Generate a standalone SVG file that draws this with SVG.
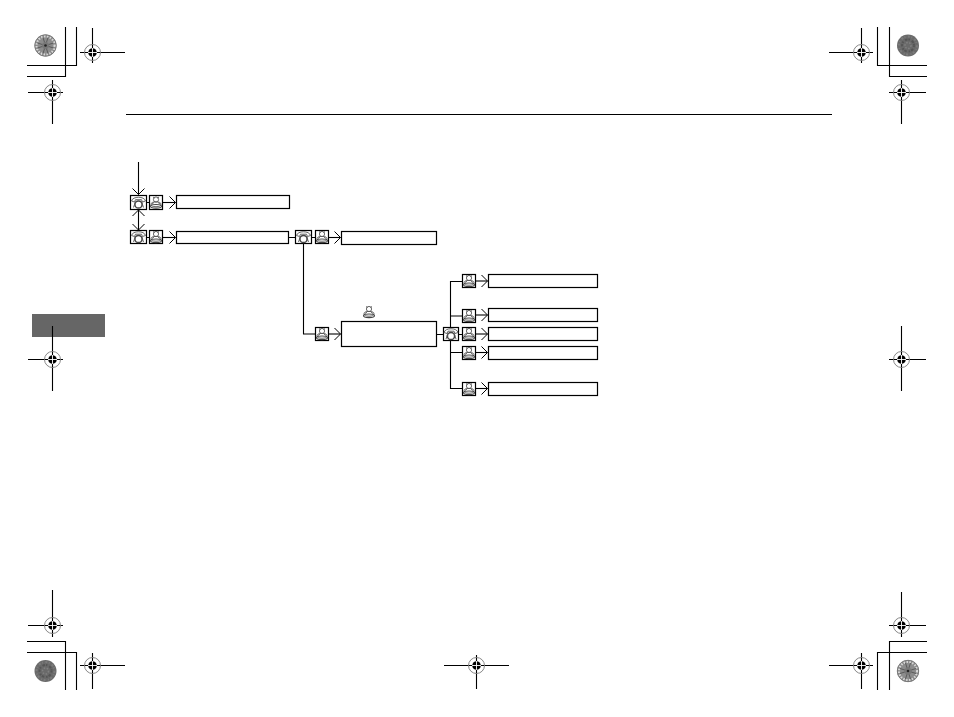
<svg xmlns="http://www.w3.org/2000/svg" width="954" height="717" viewBox="0 0 954 717">
<style>
.k{fill:none;stroke:#000;stroke-width:1.1}
.n{fill:#fff;stroke:#000;stroke-width:1.2}
.g{fill:none;stroke:#555;stroke-width:.9}
.rc{fill:none;stroke:#888;stroke-width:1}
</style>
<defs>
<marker id="a" markerUnits="userSpaceOnUse" markerWidth="9" markerHeight="14" refX="7" refY="7" orient="auto-start-reverse"><path d="M1,1 L7,7 L1,13" fill="none" stroke="#000" stroke-width="1"/></marker>
<g id="phone"><path class="g" d="M-7,-1.500 C-6,-6.500 6,-6.500 7,-1.500 L4,-.5 L3,-2.800 L-3,-2.800 L-4,-.5Z"/><circle cx="0" cy="2" r="3.600" fill="none" stroke="#444" stroke-width="1.500"/><path class="g" d="M-3,-1L-5,5M3,-1L5,5"/></g>
<g id="seat"><circle class="g" cx="0" cy="-3" r="2.600"/><path class="g" d="M-3,-5.500L-1.500,-4.500M3,-5.500L1.500,-4.500M-2,0L-4,1.500M2,0L4,1.500"/><ellipse class="g" cx="0" cy="1.800" rx="5" ry="2.400"/><ellipse cx="0" cy="3.800" rx="5.500" ry="1.800" fill="none" stroke="#444" stroke-width="1.100"/></g>
<g id="reg"><circle class="rc" r="8"/><circle r="4.300" fill="#000"/><path d="M-4.500,0H4.500M0,-4.500V4.500" stroke="#fff" stroke-width=".9"/></g>
<g id="discA"><circle r="11" fill="#8c8c8c"/><circle r="9.300" fill="none" stroke="#d8d8d8" stroke-width="2.600" stroke-dasharray="1.500 1.500"/><g stroke="#5a5a5a" stroke-width="1" fill="none"><circle r="10.700" stroke="#777"/><path d="M-8,-2.500L8,2.500M-8,2.500L8,-2.500M-2.500,-8L2.500,8M2.500,-8L-2.500,8"/></g><circle r="3.500" fill="#777"/><circle r="1.300" fill="#222"/></g>
<g id="discB"><circle r="11" fill="#6a6a6a"/><circle r="9" fill="none" stroke="#7c7c7c" stroke-width="2" stroke-dasharray="2 1.500 1 2.500"/><circle r="6" fill="none" stroke="#555" stroke-width="2" stroke-dasharray="1.500 2 2.500 1"/><circle r="3" fill="none" stroke="#808080" stroke-width="1.500" stroke-dasharray="1.500 1.500"/></g>
</defs>
<rect width="954" height="717" fill="#fff"/>
<g id="page-marks">
<path class="k" d="M76.500,27V65.500H27M65.500,27V76.500H27M877.500,27V65.500H927M889.500,27V76.500H927M27,641.500H65.500V690M27,652.500H76.500V690M927,641.500H889.500V690M927,652.500H877.500V690"/>
<path class="k" d="M80,52.500H125M92.500,28V63M28,92.500H63M52.500,80V124M829,52.500H873M861.500,28V63M889,92.500H926M901.500,80V124M28,625.500H63M52.500,590V637M80,665.500H125M92.500,653V689M889,625.500H926M901.500,592V637M829,665.500H873M861.500,653V689M444,665.500H509M476.500,655V689"/>
<rect x="32" y="314" width="73" height="23" fill="#666"/>
<path class="k" d="M28,359.500H63M52.500,326V391M889,359.500H926M901.500,326V391"/>
<use href="#reg" x="92.500" y="52.500"/><use href="#reg" x="52.500" y="92.500"/><use href="#reg" x="861.500" y="52.500"/><use href="#reg" x="901.500" y="92.500"/>
<use href="#reg" x="52.500" y="625.500"/><use href="#reg" x="92.500" y="665.500"/><use href="#reg" x="901.500" y="625.500"/><use href="#reg" x="861.500" y="665.500"/><use href="#reg" x="476.500" y="665.500"/><use href="#reg" x="52.500" y="359.500"/><use href="#reg" x="901.500" y="359.500"/>
<use href="#discA" x="45.500" y="45.500"/><use href="#discB" x="908" y="45.500"/><use href="#discB" x="45.500" y="671"/><use href="#discA" x="908" y="671"/>
<path class="k" d="M126,114.500H832"/>
</g>
<g id="connectors">
<path class="k" d="M138.500,162V194.500" marker-end="url(#a)"/>
<path class="k" d="M138.500,210V230" marker-start="url(#a)" marker-end="url(#a)"/>
<path class="k" d="M146,202.500H149M146,237.500H149M288,237.500H296M312,237.500H315M437,334.500H443M459,334.500H462"/>
<path class="k" d="M163,202.500H175.500" marker-end="url(#a)"/>
<path class="k" d="M163,237.500H175.500" marker-end="url(#a)"/>
<path class="k" d="M328,237.500H340.500" marker-end="url(#a)"/>
<path class="k" d="M303.500,244V334H315"/>
<path class="k" d="M328,334H340.500" marker-end="url(#a)"/>
<path class="k" d="M450.500,281V389M450.500,281.500H462M450.500,316H462M450.500,352.500H462M450.500,388.500H462"/>
<path class="k" d="M475,281H487.500" marker-end="url(#a)"/>
<path class="k" d="M475,315H487.500" marker-end="url(#a)"/>
<path class="k" d="M475,334H487.500" marker-end="url(#a)"/>
<path class="k" d="M475,352.500H487.500" marker-end="url(#a)"/>
<path class="k" d="M475,388.500H487.500" marker-end="url(#a)"/>
</g>
<g id="n1"><rect class="n" x="130.500" y="195.500" width="16" height="14"/><use href="#phone" x="138.500" y="202.500"/></g>
<g id="n2"><rect class="n" x="149.500" y="195.500" width="13" height="14"/><use href="#seat" x="156" y="202.500"/></g>
<g id="n3"><rect class="n" x="176.500" y="195.500" width="113" height="13"/></g>
<g id="n4"><rect class="n" x="130.500" y="230.500" width="16" height="13"/><use href="#phone" x="138.500" y="237"/></g>
<g id="n5"><rect class="n" x="149.500" y="230.500" width="13" height="13"/><use href="#seat" x="156" y="237"/></g>
<g id="n6"><rect class="n" x="176.500" y="231.500" width="112" height="12"/></g>
<g id="n7"><rect class="n" x="295.500" y="230.500" width="16" height="13"/><use href="#phone" x="303.500" y="237"/></g>
<g id="n8"><rect class="n" x="315.500" y="230.500" width="13" height="13"/><use href="#seat" x="322" y="237"/></g>
<g id="n9"><rect class="n" x="341.500" y="231.500" width="95" height="13"/></g>
<g id="n10"><rect class="n" x="315.500" y="327.500" width="13" height="13"/><use href="#seat" x="322" y="334"/></g>
<g id="n11"><use href="#seat" x="369" y="312"/></g>
<g id="n12"><rect class="n" x="341.500" y="321.500" width="95" height="25"/></g>
<g id="n13"><rect class="n" x="443.500" y="327.500" width="15" height="13"/><use href="#phone" x="451" y="334"/></g>
<g id="n14"><rect class="n" x="462.500" y="274.500" width="13" height="13"/><use href="#seat" x="469" y="281"/></g>
<g id="n15"><rect class="n" x="488.500" y="274.500" width="109" height="13"/></g>
<g id="n16"><rect class="n" x="462.500" y="309.500" width="13" height="13"/><use href="#seat" x="469" y="316"/></g>
<g id="n17"><rect class="n" x="488.500" y="308.500" width="109" height="13"/></g>
<g id="n18"><rect class="n" x="462.500" y="327.500" width="13" height="13"/><use href="#seat" x="469" y="334"/></g>
<g id="n19"><rect class="n" x="488.500" y="327.500" width="109" height="13"/></g>
<g id="n20"><rect class="n" x="462.500" y="346.500" width="13" height="13"/><use href="#seat" x="469" y="353"/></g>
<g id="n21"><rect class="n" x="488.500" y="346.500" width="109" height="13"/></g>
<g id="n22"><rect class="n" x="462.500" y="382.500" width="13" height="13"/><use href="#seat" x="469" y="389"/></g>
<g id="n23"><rect class="n" x="488.500" y="382.500" width="109" height="13"/></g>
</svg>
